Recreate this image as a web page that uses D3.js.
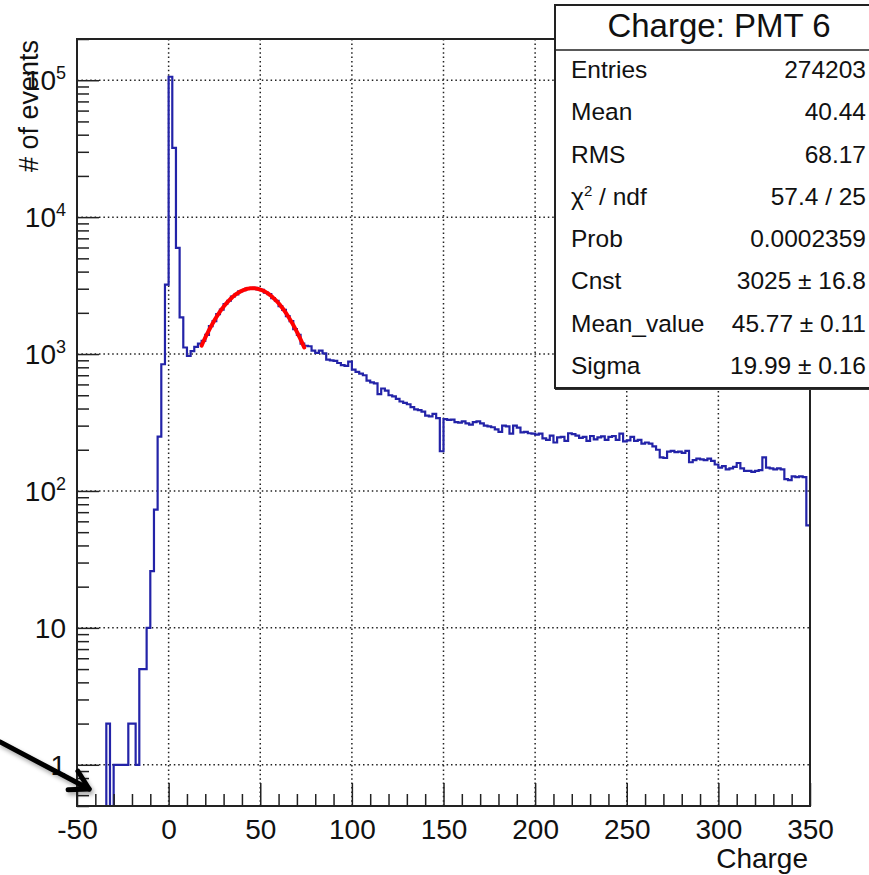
<!DOCTYPE html>
<html>
<head>
<meta charset="utf-8">
<script src="https://cdn.jsdelivr.net/npm/d3@7/dist/d3.min.js"></script>
<style>
  body { margin: 0; background: #fff; }
  svg text { font-family: "Liberation Sans", Arial, Helvetica, sans-serif; fill: #111; }
</style>
</head>
<body>
<svg id="chart" width="869" height="875"></svg>
<script>
// histogram binning: 200 bins of width 2 from -50 to 350
const binLow = -50;
const binWidth = 2;
const counts = [
  0, 0, 0, 0, 0, 0, 0, 0, 2, 0,                                   // -50 .. -32
  1, 1, 1, 1, 2, 2, 1, 5, 5, 10,                                  // -30 .. -12
  26, 73, 249, 842, 3210, 106000, 32000, 5960, 1850, 1116,        // -10 .. 8
  968, 1050, 1130, 1190, 1250, 1380, 1600, 1740, 1960, 2110,      // 10 .. 28
  2320, 2450, 2630, 2730, 2870, 2930, 3010, 3000, 3040, 2970,     // 30 .. 48
  2940, 2810, 2740, 2560, 2450, 2240, 2100, 1890, 1740, 1520,     // 50 .. 68
  1380, 1190, 1150, 1140, 1060, 1020, 1060, 1010, 910, 900,       // 70 .. 88
  890, 860, 830, 820, 880, 770, 740, 720, 700, 640,               // 90 .. 108
  620, 610, 510, 560, 540, 500, 490, 470, 450, 440,               // 110 .. 128
  430, 410, 395, 390, 380, 355, 350, 365, 340, 195,               // 130 .. 148
  335, 330, 332, 318, 316, 322, 312, 305, 318, 322,               // 150 .. 168
  312, 300, 296, 292, 282, 270, 300, 296, 262, 300,               // 170 .. 188
  290, 268, 270, 264, 262, 258, 262, 242, 236, 254,               // 190 .. 208
  226, 246, 248, 232, 264, 260, 254, 244, 248, 232,               // 210 .. 228
  252, 238, 246, 250, 236, 248, 252, 236, 262, 230,               // 230 .. 248
  234, 248, 232, 236, 222, 226, 222, 212, 200, 176,               // 250 .. 268
  174, 194, 196, 192, 194, 190, 196, 162, 168, 172,               // 270 .. 288
  170, 168, 172, 166, 156, 148, 152, 144, 146, 150,               // 290 .. 308
  160, 146, 140, 140, 138, 140, 142, 176, 148, 146,               // 310 .. 328
  144, 146, 144, 122, 120, 128, 126, 128, 126, 56                 // 330 .. 348
];

// gaussian fit (parameters as printed in the stats box)
const fitCnst = 3025;
const fitMean = 45.77;
const fitSigma = 19.99;
const fitRange = [18, 74];

// axes
const xDomain = [-50, 350];
const yDomain = [0.5, 2e5];
const xTickValues = [-50, 0, 50, 100, 150, 200, 250, 300, 350];
const yTickValues = [1, 10, 100, 1000, 10000, 100000];
const yTickLabels = ["1", "10", "10^2", "10^3", "10^4", "10^5"];
const xTitle = "Charge";
const yTitle = "# of events";

// stats box
const statsTitle = "Charge: PMT 6";
const statsLabels = ["Entries", "Mean", "RMS", "χ^2 / ndf", "Prob", "Cnst", "Mean_value", "Sigma"];
const statsValues = ["274203", "40.44", "68.17", "57.4 / 25", "0.0002359", "3025 ± 16.8", "45.77 ± 0.11", "19.99 ± 0.16"];

// annotation arrow (data coordinates: tail, tip)
const arrowTail = [-92, 1.47];
const arrowTip = [-43.4, 0.665];

function drawChart() {
    const svg = d3.select("#chart");
    svg.selectAll("*").remove();

    const W = 869, H = 875;
    const frame = { left: 77, right: 810, top: 39, bottom: 806 };

    svg.append("rect").attr("width", W).attr("height", H).attr("fill", "#fff");

    const defs = svg.append("defs");
    defs.append("clipPath").attr("id", "plotClip")
        .append("rect")
        .attr("x", frame.left).attr("y", frame.top)
        .attr("width", frame.right - frame.left).attr("height", frame.bottom - frame.top);
    const shadow = defs.append("filter").attr("id", "arrowShadow")
        .attr("x", "-20%").attr("y", "-20%").attr("width", "140%").attr("height", "140%");
    shadow.append("feDropShadow")
        .attr("dx", 2).attr("dy", 3).attr("stdDeviation", 2)
        .attr("flood-color", "#000").attr("flood-opacity", 0.35);

    const x = d3.scaleLinear().domain(xDomain).range([frame.left, frame.right]);
    const y = d3.scaleLog().domain(yDomain).range([frame.bottom, frame.top]);

    // grid (dotted, at major ticks)
    const grid = svg.append("g").attr("class", "grid")
        .attr("stroke", "#222").attr("stroke-width", 1.5).attr("stroke-dasharray", "1.5,2.9");
    grid.selectAll(".gx")
        .data(xTickValues.filter(d => d > xDomain[0] && d < xDomain[1]))
        .enter().append("line")
        .attr("x1", d => x(d)).attr("x2", d => x(d))
        .attr("y1", frame.top).attr("y2", frame.bottom);
    grid.selectAll(".gy")
        .data(yTickValues)
        .enter().append("line")
        .attr("x1", frame.left).attr("x2", frame.right)
        .attr("y1", d => y(d)).attr("y2", d => y(d));

    // histogram outline
    const pts = [];
    counts.forEach((c, i) => {
        const lo = binLow + i * binWidth;
        const v = Math.max(c, yDomain[0]);
        pts.push([lo, v], [lo + binWidth, v]);
    });
    const histLine = d3.line().x(d => x(d[0])).y(d => y(d[1]));
    svg.append("path")
        .datum(pts)
        .attr("clip-path", "url(#plotClip)")
        .attr("fill", "none")
        .attr("stroke", "#2323a8")
        .attr("stroke-width", 2.2)
        .attr("d", histLine);

    // fit curve
    const fitPts = d3.range(fitRange[0], fitRange[1] + 1e-9, 0.5)
        .map(v => [v, fitCnst * Math.exp(-0.5 * Math.pow((v - fitMean) / fitSigma, 2))]);
    svg.append("path")
        .datum(fitPts)
        .attr("fill", "none")
        .attr("stroke", "#ff0000")
        .attr("stroke-width", 4)
        .attr("stroke-linecap", "round")
        .attr("d", d3.line().x(d => x(d[0])).y(d => y(d[1])).curve(d3.curveMonotoneX));

    // x axis: minor + major ticks pointing inward
    const xMinor = x.ticks(40).filter(d => xTickValues.indexOf(d) < 0);
    const xAxisMinor = svg.append("g")
        .attr("transform", `translate(0,${frame.bottom})`)
        .call(d3.axisBottom(x).tickValues(xMinor).tickSize(-12).tickFormat(""));
    const xAxis = svg.append("g")
        .attr("transform", `translate(0,${frame.bottom})`)
        .call(d3.axisBottom(x).tickValues(xTickValues).tickSize(-23).tickPadding(13).tickFormat(d => String(d)));
    xAxis.selectAll("text").style("font-size", "28px").attr("fill", "#111");

    // y axis
    const yMinor = y.ticks().filter(d => yTickValues.indexOf(d) < 0);
    const yAxisMinor = svg.append("g")
        .attr("transform", `translate(${frame.left},0)`)
        .call(d3.axisLeft(y).tickValues(yMinor).tickSize(-12).tickFormat(""));
    const yAxis = svg.append("g")
        .attr("transform", `translate(${frame.left},0)`)
        .call(d3.axisLeft(y).tickValues(yTickValues).tickSize(-22).tickFormat(""));

    [xAxisMinor, xAxis, yAxisMinor, yAxis].forEach(a => {
        a.select(".domain").remove();
        a.selectAll("line").attr("stroke", "#222").attr("stroke-width", 1.5);
    });

    // y tick labels with superscript exponents
    yTickValues.forEach((v, i) => {
        const parts = yTickLabels[i].split("^");
        const t = svg.append("text")
            .attr("x", 66)
            .attr("y", y(v))
            .attr("dy", "0.36em")
            .attr("text-anchor", "end")
            .style("font-size", "28px");
        t.append("tspan").text(parts[0]);
        if (parts[1]) {
            t.append("tspan").attr("dy", -11).style("font-size", "18px").text(parts[1]);
        }
    });

    // frame
    svg.append("rect")
        .attr("x", frame.left).attr("y", frame.top)
        .attr("width", frame.right - frame.left).attr("height", frame.bottom - frame.top)
        .attr("fill", "none").attr("stroke", "#222").attr("stroke-width", 2);

    // axis titles
    svg.append("text")
        .attr("x", frame.right - 2)
        .attr("y", 868)
        .attr("text-anchor", "end")
        .style("font-size", "28px")
        .text(xTitle);
    svg.append("text")
        .attr("transform", `translate(38,${frame.top + 1}) rotate(-90)`)
        .attr("text-anchor", "end")
        .style("font-size", "27px")
        .text(yTitle);

    // stats box
    const box = { x: 555, y: 5, w: 328, titleH: 45, rowH: 42.25 };
    const boxH = box.titleH + box.rowH * statsLabels.length;
    const sb = svg.append("g").attr("class", "stats");
    sb.append("rect")
        .attr("x", box.x).attr("y", box.y + 2)
        .attr("width", box.w).attr("height", boxH)
        .attr("fill", "#333");
    sb.append("rect")
        .attr("x", box.x).attr("y", box.y)
        .attr("width", box.w).attr("height", boxH)
        .attr("fill", "#fff").attr("stroke", "#222").attr("stroke-width", 2);
    sb.append("line")
        .attr("x1", box.x).attr("x2", box.x + box.w)
        .attr("y1", box.y + box.titleH).attr("y2", box.y + box.titleH)
        .attr("stroke", "#222").attr("stroke-width", 1.5);
    sb.append("text")
        .attr("x", box.x + box.w / 2)
        .attr("y", box.y + 32)
        .attr("text-anchor", "middle")
        .style("font-size", "33px")
        .text(statsTitle);

    statsLabels.forEach((lab, i) => {
        const base = box.y + box.titleH + box.rowH * i + 28;
        const parts = lab.split("^");
        const t = sb.append("text")
            .attr("x", box.x + 16)
            .attr("y", base)
            .style("font-size", "24.5px");
        if (parts.length > 1) {
            t.append("tspan").text(parts[0]);
            t.append("tspan").attr("dy", -9).style("font-size", "15px").text(parts[1][0]);
            t.append("tspan").attr("dy", 9).text(parts[1].slice(1));
        } else {
            t.text(lab);
        }
        sb.append("text")
            .attr("x", 866)
            .attr("y", base)
            .attr("text-anchor", "end")
            .style("font-size", "24.5px")
            .text(statsValues[i]);
    });

    // annotation arrow
    const tip = [x(arrowTip[0]), y(arrowTip[1])];
    const tail = [x(arrowTail[0]), y(arrowTail[1])];
    const ang = Math.atan2(tail[1] - tip[1], tail[0] - tip[0]);
    const headLen = 21, spread = Math.PI / 6;
    const arm1 = [tip[0] + headLen * Math.cos(ang - spread), tip[1] + headLen * Math.sin(ang - spread)];
    const arm2 = [tip[0] + headLen * Math.cos(ang + spread), tip[1] + headLen * Math.sin(ang + spread)];
    const ag = svg.append("g")
        .attr("filter", "url(#arrowShadow)")
        .attr("fill", "none").attr("stroke", "#000").attr("stroke-width", 5)
        .attr("stroke-linecap", "round").attr("stroke-linejoin", "round");
    ag.append("path").attr("d", d3.line()([tail, tip]));
    ag.append("path").attr("d", d3.line()([arm1, tip, arm2]));
}

drawChart();
</script>
</body>
</html>
